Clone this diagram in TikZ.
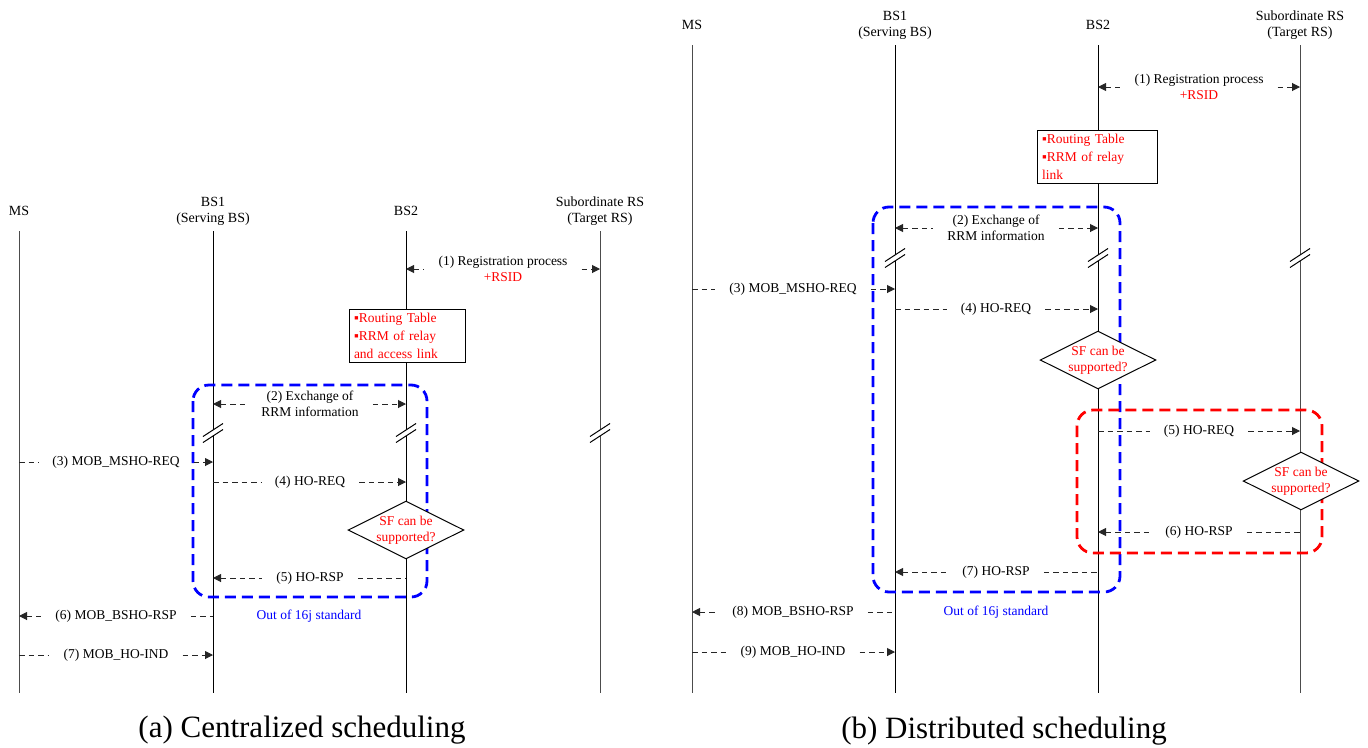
\documentclass[tikz,border=0pt]{standalone}
\usepackage{fontspec}
\setmainfont{Liberation Serif}
\usetikzlibrary{arrows.meta,shapes.geometric}

\begin{document}
\begin{tikzpicture}[
    x=1pt, y=-1pt,
    font=\fontsize{13.5}{16}\selectfont,
    >={Triangle[length=8pt,width=8pt]},
    head/.style={align=center, minimum height=40pt, inner sep=0pt, font=\fontsize{14}{16}\selectfont},
    life/.style={line width=1pt, black!70},
    msg/.style={dash pattern=on 5.5pt off 4pt, line width=1pt, black!85},
    lbl/.style={align=center, inner xsep=14pt, inner ysep=0pt},
    tbl/.style={draw, fill=white, line width=1pt, text=red, align=left, inner xsep=5pt, inner ysep=4pt, font=\fontsize{13.5}{18}\selectfont},
    sfq/.style={draw, fill=white, diamond, aspect=2, inner sep=0pt, text=red, align=center, line width=1pt},
    grp/.style={line width=2.8pt, dash pattern=on 11pt off 6pt, rounded corners=16pt},
    brk/.pic={
        \fill[white] (-10,3.5) -- (10,-9.5) -- (10,-3.5) -- (-10,9.5) -- cycle;
        \draw[line width=1pt] (-10,3.5) -- (10,-9.5) (-10,9.5) -- (10,-3.5);
    },
    caption/.style={font=\fontsize{31}{36}\selectfont}
]
\useasboundingbox (0,0) rectangle (1368,747);
\coordinate (bot) at (0,693);

% (a) centralized scheduling
\node[head] (ms-a) at (19,211) {MS};
\node[head] (bs1-a) at (213,211) {BS1\\(Serving BS)};
\node[head] (bs2-a) at (406,211) {BS2};
\node[head] (rs-a) at (600,211) {Subordinate RS\\(Target RS)};
\draw[life] (ms-a) -- (ms-a |- bot);
\draw[life, black] (bs1-a) -- (bs1-a |- bot);
\draw[life, black] (bs2-a) -- (bs2-a |- bot);
\draw[life] (rs-a) -- (rs-a |- bot);
\path (bs1-a |- 0,433) pic {brk};
\path (bs2-a |- 0,433) pic {brk};
\path (rs-a |- 0,433) pic {brk};

\draw[grp, blue] (193,385) rectangle (427,597);

\node[lbl] (m1-a) at (503,269) {(1) Registration process\\\textcolor{red}{+RSID}};
\draw[msg,<-] (bs2-a |- m1-a) -- (m1-a.west);
\draw[msg,->] (m1-a.east) -- (rs-a |- m1-a);

\node[tbl, text width=106pt] (tbl-a) at (407,336) {▪Routing Table\\▪RRM of relay\\and access link};

\node[lbl] (m2-a) at (310,404) {(2) Exchange of\\RRM information};
\draw[msg,<-] (bs1-a |- m2-a) -- (m2-a.west);
\draw[msg,->] (m2-a.east) -- (bs2-a |- m2-a);

\node[lbl] (m3-a) at (116,462) {(3) MOB\_MSHO-REQ};
\draw[msg] (ms-a |- m3-a) -- (m3-a.west);
\draw[msg,->] (m3-a.east) -- (bs1-a |- m3-a);

\node[lbl] (m4-a) at (310,482) {(4) HO-REQ};
\draw[msg] (bs1-a |- m4-a) -- (m4-a.west);
\draw[msg,->] (m4-a.east) -- (bs2-a |- m4-a);

\node[sfq] (sf-a) at (406,530) {SF can be\\supported?};

\node[lbl] (m5-a) at (310,578) {(5) HO-RSP};
\draw[msg,<-] (bs1-a |- m5-a) -- (m5-a.west);
\draw[msg] (m5-a.east) -- (bs2-a |- m5-a);

\node[lbl] (m6-a) at (116,616) {(6) MOB\_BSHO-RSP};
\draw[msg,<-] (ms-a |- m6-a) -- (m6-a.west);
\draw[msg] (m6-a.east) -- (bs1-a |- m6-a);
\node[text=blue] (out-a) at (309,616) {Out of 16j standard};

\node[lbl] (m7-a) at (116,655) {(7) MOB\_HO-IND};
\draw[msg] (ms-a |- m7-a) -- (m7-a.west);
\draw[msg,->] (m7-a.east) -- (bs1-a |- m7-a);

\node[caption] (cap-a) at (302,730) {(a) Centralized scheduling};

% (b) distributed scheduling
\node[head] (ms-b) at (692,25) {MS};
\node[head] (bs1-b) at (895,25) {BS1\\(Serving BS)};
\node[head] (bs2-b) at (1098,25) {BS2};
\node[head] (rs-b) at (1300,25) {Subordinate RS\\(Target RS)};
\draw[life] (ms-b) -- (ms-b |- bot);
\draw[life, black] (bs1-b) -- (bs1-b |- bot);
\draw[life, black] (bs2-b) -- (bs2-b |- bot);
\draw[life] (rs-b) -- (rs-b |- bot);
\path (bs1-b |- 0,258) pic {brk};
\path (bs2-b |- 0,258) pic {brk};
\path (rs-b |- 0,258) pic {brk};

\draw[grp, blue] (873,207) rectangle (1120,592);
\draw[grp, red] (1077,410) rectangle (1322,553);

\node[lbl] (m1-b) at (1199,87) {(1) Registration process\\\textcolor{red}{+RSID}};
\draw[msg,<-] (bs2-b |- m1-b) -- (m1-b.west);
\draw[msg,->] (m1-b.east) -- (rs-b |- m1-b);

\node[tbl, text width=110pt] (tbl-b) at (1097,157) {▪Routing Table\\▪RRM of relay\\link};

\node[lbl] (m2-b) at (996,228) {(2) Exchange of\\RRM information};
\draw[msg,<-] (bs1-b |- m2-b) -- (m2-b.west);
\draw[msg,->] (m2-b.east) -- (bs2-b |- m2-b);

\node[lbl] (m3-b) at (793,289) {(3) MOB\_MSHO-REQ};
\draw[msg] (ms-b |- m3-b) -- (m3-b.west);
\draw[msg,->] (m3-b.east) -- (bs1-b |- m3-b);

\node[lbl] (m4-b) at (996,309) {(4) HO-REQ};
\draw[msg] (bs1-b |- m4-b) -- (m4-b.west);
\draw[msg,->] (m4-b.east) -- (bs2-b |- m4-b);

\node[sfq] (sf-b) at (1098,360) {SF can be\\supported?};

\node[lbl] (m5-b) at (1199,431) {(5) HO-REQ};
\draw[msg] (bs2-b |- m5-b) -- (m5-b.west);
\draw[msg,->] (m5-b.east) -- (rs-b |- m5-b);

\node[sfq] (sf-rs) at (1301,481) {SF can be\\supported?};

\node[lbl] (m6-b) at (1199,532) {(6) HO-RSP};
\draw[msg,<-] (bs2-b |- m6-b) -- (m6-b.west);
\draw[msg] (m6-b.east) -- (rs-b |- m6-b);

\node[lbl] (m7-b) at (996,572) {(7) HO-RSP};
\draw[msg,<-] (bs1-b |- m7-b) -- (m7-b.west);
\draw[msg] (m7-b.east) -- (bs2-b |- m7-b);

\node[lbl] (m8-b) at (793,612) {(8) MOB\_BSHO-RSP};
\draw[msg,<-] (ms-b |- m8-b) -- (m8-b.west);
\draw[msg] (m8-b.east) -- (bs1-b |- m8-b);
\node[text=blue] (out-b) at (996,612) {Out of 16j standard};

\node[lbl] (m9-b) at (793,652) {(9) MOB\_HO-IND};
\draw[msg] (ms-b |- m9-b) -- (m9-b.west);
\draw[msg,->] (m9-b.east) -- (bs1-b |- m9-b);

\node[caption] (cap-b) at (1004,731) {(b) Distributed scheduling};
\end{tikzpicture}
\end{document}
